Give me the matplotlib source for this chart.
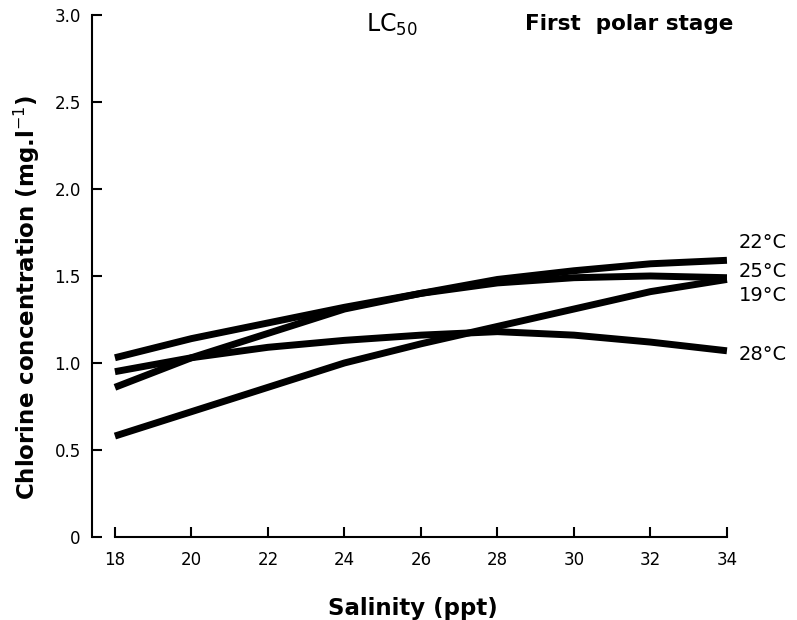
import matplotlib.pyplot as plt

# Salinity (ppt) and LC50 chlorine values
salinity = [18, 20, 22, 24, 26, 28, 30, 32, 34]
lc50_19 = [0.58, 0.72, 0.86, 1.00, 1.11, 1.21, 1.31, 1.41, 1.48]
lc50_22 = [0.86, 1.03, 1.17, 1.31, 1.40, 1.48, 1.53, 1.57, 1.59]
lc50_25 = [1.03, 1.14, 1.23, 1.32, 1.40, 1.46, 1.49, 1.50, 1.49]
lc50_28 = [0.95, 1.03, 1.09, 1.13, 1.16, 1.18, 1.16, 1.12, 1.07]

temp_labels = ['22°C', '25°C', '19°C', '28°C']
label_y = [1.695, 1.525, 1.385, 1.05]

x_ticks = [18, 20, 22, 24, 26, 28, 30, 32, 34]
y_ticks = [0, 0.5, 1.0, 1.5, 2.0, 2.5, 3.0]
y_ticklabels = ['0', '0.5', '1.0', '1.5', '2.0', '2.5', '3.0']

fig = plt.figure(figsize=(7.97, 6.2), dpi=100)
ax = fig.add_axes([0.1154, 0.1339, 0.8063, 0.8476])

for series in [lc50_19, lc50_22, lc50_25, lc50_28]:
    ax.plot(salinity, series, color='black', lw=5, solid_capstyle='butt',
            solid_joinstyle='round')

ax.set_xlim(17.4, 34.2)
ax.set_ylim(0, 3.02)

# detached axes like the original drawing
ax.spines['top'].set_visible(False)
ax.spines['right'].set_visible(False)
ax.spines['left'].set_linewidth(1.5)
ax.spines['bottom'].set_linewidth(1.5)
ax.spines['left'].set_bounds(0, 3.0)
ax.spines['bottom'].set_bounds(18, 34)

ax.set_xticks(x_ticks)
ax.set_yticks(y_ticks)
ax.set_yticklabels(y_ticklabels)
ax.tick_params(axis='both', direction='in', length=7, width=1.5, labelsize=12)
ax.tick_params(axis='x', pad=10)
ax.tick_params(axis='y', pad=8)

ax.set_xlabel('Salinity (ppt)', fontsize=16.5, fontweight='bold', labelpad=20)
ax.set_ylabel('Chlorine concentration (mg.l$^{-1}$)', fontsize=16.5, fontweight='bold')
ax.yaxis.set_label_coords(-0.078, 0.455)

# curve labels at the right end
for lab, yy in zip(temp_labels, label_y):
    ax.text(34.3, yy, lab, fontsize=14, va='center', ha='left', clip_on=False)

fig.text(366 / 797, 1 - 25 / 620, 'LC$_{50}$', fontsize=17, ha='left', va='center')
fig.text(525 / 797, 1 - 24 / 620, 'First  polar stage', fontsize=15.5, fontweight='bold',
         ha='left', va='center')

fig.savefig('out.png', dpi=100)
